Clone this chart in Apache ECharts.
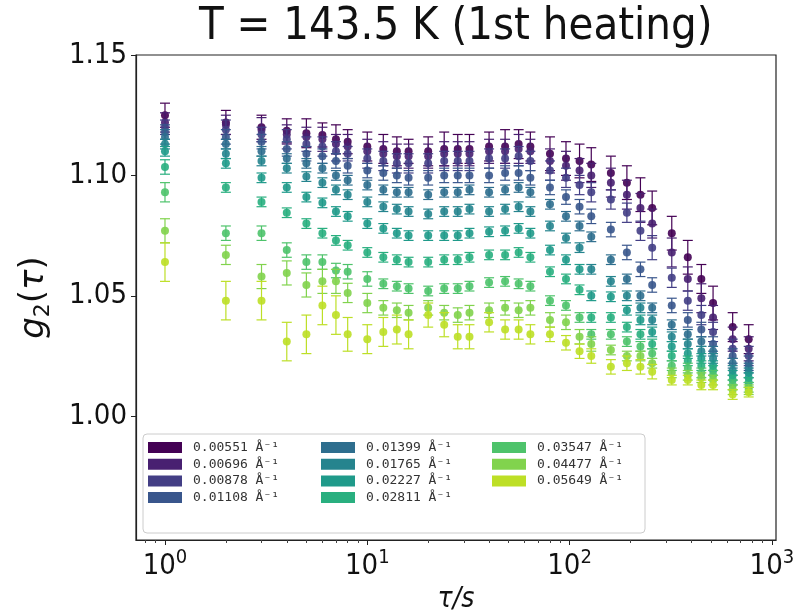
<!DOCTYPE html>
<html>
<head>
<meta charset="utf-8">
<title>g2 vs tau</title>
<script src="https://cdn.jsdelivr.net/npm/echarts@6/dist/echarts.min.js"></script>
<style>
  html, body { margin: 0; padding: 0; background: #fff; }
  #chart { width: 801px; height: 613px; }
</style>
</head>
<body>
<div id="chart"></div>
<script>
// delay times (s)
const taus = [1, 2, 3, 4, 5, 6, 7, 8, 10, 12, 14, 16, 20, 24, 28, 32, 40, 48, 56, 64,
  80, 96, 112, 128, 160, 192, 224, 256, 320, 384, 448, 512, 640, 768]

const qLabels = ['0.00551 Å⁻¹', '0.00696 Å⁻¹', '0.00878 Å⁻¹', '0.01108 Å⁻¹',
  '0.01399 Å⁻¹', '0.01765 Å⁻¹', '0.02227 Å⁻¹', '0.02811 Å⁻¹',
  '0.03547 Å⁻¹', '0.04477 Å⁻¹', '0.05649 Å⁻¹']

const qColors = ['#440154', '#482071', '#433e85', '#39568c', '#2e6e8e', '#25848e',
  '#1f9a8a', '#29af7f', '#4ec36b', '#81d34d', '#bddf26']

const xTicks = [1, 10, 100, 1000]
const yTicks = [1.00, 1.05, 1.10, 1.15]

// g2 values per q
const g2_00551 = [1.125, 1.122, 1.120, 1.1185, 1.1175, 1.1168, 1.115, 1.114, 1.112, 1.111, 1.110, 1.110,
  1.110, 1.111, 1.111, 1.111, 1.112, 1.112, 1.113, 1.112, 1.109, 1.107, 1.106, 1.1045,
  1.101, 1.097, 1.092, 1.0865, 1.076, 1.066, 1.057, 1.047, 1.037, 1.032]
const g2_00696 = [1.122, 1.121, 1.119, 1.117, 1.116, 1.115, 1.113, 1.112, 1.110, 1.109, 1.108, 1.108,
  1.108, 1.109, 1.109, 1.109, 1.110, 1.110, 1.111, 1.110, 1.106, 1.104, 1.102, 1.100,
  1.097, 1.092, 1.0865, 1.080, 1.068, 1.057, 1.049, 1.041, 1.032, 1.028]
const g2_00878 = [1.120, 1.119, 1.117, 1.115, 1.113, 1.112, 1.110, 1.109, 1.107, 1.106, 1.105, 1.105,
  1.105, 1.106, 1.106, 1.106, 1.107, 1.107, 1.108, 1.106, 1.102, 1.099, 1.096, 1.093,
  1.090, 1.0845, 1.077, 1.070, 1.0575, 1.048, 1.042, 1.035, 1.028, 1.025]
const g2_01108 = [1.118, 1.116, 1.114, 1.111, 1.109, 1.108, 1.106, 1.104, 1.102, 1.101, 1.100, 1.099,
  1.099, 1.100, 1.100, 1.100, 1.100, 1.101, 1.101, 1.099, 1.095, 1.091, 1.087, 1.083,
  1.0775, 1.068, 1.061, 1.0545, 1.046, 1.040, 1.036, 1.030, 1.025, 1.022]
const g2_01399 = [1.116, 1.113, 1.110, 1.107, 1.105, 1.103, 1.100, 1.098, 1.096, 1.094, 1.093, 1.093,
  1.092, 1.093, 1.093, 1.094, 1.093, 1.094, 1.095, 1.093, 1.088, 1.083, 1.079, 1.0745,
  1.065, 1.057, 1.050, 1.045, 1.038, 1.034, 1.031, 1.027, 1.022, 1.020]
const g2_01765 = [1.113, 1.109, 1.106, 1.103, 1.0995, 1.097, 1.094, 1.092, 1.089, 1.087, 1.086, 1.085,
  1.084, 1.085, 1.085, 1.086, 1.085, 1.086, 1.087, 1.085, 1.079, 1.074, 1.070, 1.061,
  1.056, 1.050, 1.045, 1.040, 1.033, 1.030, 1.027, 1.024, 1.019, 1.018]
const g2_02227 = [1.110, 1.105, 1.099, 1.095, 1.091, 1.0886, 1.085, 1.083, 1.080, 1.078, 1.076, 1.075,
  1.075, 1.075, 1.075, 1.076, 1.0766, 1.077, 1.078, 1.076, 1.069, 1.065, 1.061, 1.050,
  1.0496, 1.044, 1.040, 1.035, 1.029, 1.026, 1.024, 1.021, 1.017, 1.016]
const g2_02811 = [1.1035, 1.095, 1.089, 1.0845, 1.080, 1.076, 1.073, 1.071, 1.068, 1.066, 1.065, 1.064,
  1.064, 1.065, 1.065, 1.066, 1.067, 1.067, 1.068, 1.066, 1.060, 1.057, 1.0525, 1.041,
  1.041, 1.037, 1.034, 1.030, 1.025, 1.023, 1.021, 1.019, 1.015, 1.014]
const g2_03547 = [1.093, 1.076, 1.076, 1.069, 1.064, 1.064, 1.0605, 1.060, 1.057, 1.055, 1.054, 1.053,
  1.052, 1.053, 1.053, 1.054, 1.0555, 1.056, 1.055, 1.054, 1.048, 1.046, 1.041, 1.034,
  1.034, 1.031, 1.029, 1.026, 1.021, 1.020, 1.018, 1.017, 1.013, 1.012]
const g2_04477 = [1.077, 1.067, 1.058, 1.0595, 1.0545, 1.056, 1.056, 1.0512, 1.047, 1.045, 1.044, 1.043,
  1.045, 1.043, 1.042, 1.043, 1.044, 1.045, 1.044, 1.045, 1.040, 1.039, 1.033, 1.030,
  1.0275, 1.025, 1.025, 1.022, 1.018, 1.017, 1.016, 1.015, 1.011, 1.011]
const g2_05649 = [1.064, 1.048, 1.048, 1.031, 1.034, 1.046, 1.042, 1.034, 1.032, 1.035, 1.036, 1.034,
  1.042, 1.038, 1.033, 1.033, 1.039, 1.036, 1.036, 1.034, 1.034, 1.0305, 1.027, 1.025,
  1.0205, 1.022, 1.0205, 1.0185, 1.015, 1.015, 1.013, 1.013, 1.009, 1.010]

// error bars, in units of 1e-3
const err_00551 = [5, 5, 5, 5, 6, 5, 6, 5, 6, 6, 6, 5, 6, 7, 6, 6, 6, 7, 6, 6, 7, 7, 7, 7, 7, 7, 7, 7, 7, 7, 6, 7, 6, 6]
const err_00696 = [4, 4, 5, 4, 4, 5, 4, 5, 5, 5, 5, 5, 5, 5, 5, 5, 5, 5, 6, 5, 5, 6, 5, 5, 6, 6, 6, 6, 6, 5, 6, 5, 5, 5]
const err_00878 = [3, 4, 3, 4, 3, 4, 4, 3, 4, 4, 4, 4, 4, 4, 4, 4, 4, 4, 4, 4, 4, 4, 4, 4, 4, 4, 4, 5, 4, 4, 4, 4, 4, 4]
const err_01108 = [3, 3, 3, 3, 3, 3, 3, 3, 3, 3, 3, 3, 3, 3, 3, 3, 3, 3, 3, 3, 3, 3, 3, 3, 3, 3, 3, 3, 3, 3, 3, 3, 3, 3]
const err_01399 = [3, 2, 2, 2, 2, 2, 2, 2, 2, 2, 2, 2, 2, 2, 2, 2, 2, 2, 2, 2, 2, 2, 2, 2, 2, 2, 2, 2, 2, 2, 2, 2, 2, 2]
const err_01765 = [2, 2, 2, 2, 2, 2, 2, 2, 2, 2, 2, 2, 2, 2, 2, 2, 2, 2, 2, 2, 2, 2, 2, 2, 2, 2, 2, 2, 2, 2, 2, 2, 2, 2]
const err_02227 = [2, 2, 2, 2, 2, 2, 2, 2, 2, 2, 2, 2, 2, 2, 2, 2, 2, 2, 2, 2, 2, 2, 2, 2, 2, 2, 2, 2, 2, 2, 2, 2, 2, 2]
const err_02811 = [3, 2, 2, 2, 2, 2, 2, 2, 2, 2, 2, 2, 2, 2, 2, 2, 2, 2, 2, 2, 2, 2, 2, 2, 2, 2, 2, 2, 2, 2, 2, 2, 2, 2]
const err_03547 = [4, 3, 3, 3, 3, 3, 3, 3, 3, 2, 2, 2, 2, 2, 2, 2, 2, 2, 2, 2, 2, 2, 2, 2, 2, 2, 2, 2, 2, 2, 2, 2, 2, 2]
const err_04477 = [5, 4, 5, 5, 5, 5, 5, 4, 4, 3, 3, 3, 3, 3, 3, 3, 3, 3, 3, 3, 3, 3, 3, 3, 2, 2, 2, 2, 2, 2, 2, 2, 2, 2]
const err_05649 = [8, 8, 8, 8, 8, 8, 8, 7, 6, 6, 6, 6, 5, 5, 5, 5, 4, 4, 4, 4, 3, 3, 3, 3, 3, 3, 3, 3, 2, 2, 2, 2, 2, 2]

const g2List = [g2_00551, g2_00696, g2_00878, g2_01108, g2_01399, g2_01765,
  g2_02227, g2_02811, g2_03547, g2_04477, g2_05649]
const errList = [err_00551, err_00696, err_00878, err_01108, err_01399, err_01765,
  err_02227, err_02811, err_03547, err_04477, err_05649]

const FONT = "'DejaVu Sans Condensed', 'DejaVu Sans'"
const xMin = 0.719
const xMax = 1048

// matplotlib-style minor ticks on the log axis
const minorTicks = []
;[0.1, 1, 10, 100].forEach((d) => {
  for (let k = 2; k <= 9; k++) minorTicks.push(k * d)
})

// error bar + marker for one q
function makeSeries(idx) {
  const color = qColors[idx]
  return {
    name: qLabels[idx],
    type: 'custom',
    coordinateSystem: 'cartesian2d',
    xAxisIndex: 0,
    yAxisIndex: 0,
    itemStyle: { color: color },
    encode: { x: 0, y: 1 },
    data: taus.map((t, i) => [t, g2List[idx][i], errList[idx][i] / 1000]),
    renderItem: (params, api) => {
      const x = api.value(0)
      const y = api.value(1)
      const e = api.value(2)
      const p = api.coord([x, y])
      const hi = api.coord([x, y + e])
      const lo = api.coord([x, y - e])
      const cap = 5
      const lineStyle = { stroke: color, lineWidth: 1.2 }
      return {
        type: 'group',
        children: [
          { type: 'line', shape: { x1: p[0], y1: hi[1], x2: p[0], y2: lo[1] }, style: lineStyle },
          { type: 'line', shape: { x1: p[0] - cap, y1: hi[1], x2: p[0] + cap, y2: hi[1] }, style: lineStyle },
          { type: 'line', shape: { x1: p[0] - cap, y1: lo[1], x2: p[0] + cap, y2: lo[1] }, style: lineStyle },
          { type: 'circle', shape: { cx: p[0], cy: p[1], r: 4 }, style: { fill: color, opacity: 0.9 } },
        ],
      }
    },
  }
}

const chart = echarts.init(document.getElementById('chart'))

const legendLeft = [148, 321, 492]
const legends = legendLeft.map((left, c) => ({
  orient: 'vertical',
  left: left,
  top: 441,
  padding: 0,
  itemWidth: 34,
  itemHeight: 11,
  itemGap: 3.7,
  icon: 'rect',
  selectedMode: false,
  data: qLabels.slice(c * 4, c * 4 + 4),
  textStyle: { fontFamily: 'DejaVu Sans Mono', fontSize: 13, lineHeight: 12, color: '#333', padding: [0, 0, 0, 6] },
}))

const option = {
  backgroundColor: '#fff',
  animation: false,
  title: {
    text: 'T = 143.5 K (1st heating)',
    left: 199,
    top: 5,
    padding: 0,
    textStyle: { fontFamily: FONT, fontSize: 45, fontWeight: 'normal', color: '#111' },
  },
  legend: legends,
  grid: {
    left: 136,
    right: 25,
    top: 55,
    bottom: 73,
    show: true,
    borderColor: '#222',
    borderWidth: 1.2,
    backgroundColor: '#fff',
    outerBoundsMode: 'none',
  },
  graphic: [
    {
      type: 'rect',
      z: 3,
      shape: { x: 143, y: 434, width: 502, height: 99, r: 4 },
      style: { fill: 'rgba(255,255,255,0.85)', stroke: '#cccccc', lineWidth: 1 },
    },
  ],
  xAxis: [
    {
      type: 'log',
      logBase: 10,
      min: xMin,
      max: xMax,
      name: 'τ/s',
      nameLocation: 'middle',
      nameGap: 44,
      nameTextStyle: { fontFamily: FONT, fontStyle: 'italic', fontSize: 28, color: '#111' },
      splitLine: { show: false },
      axisLine: { show: true, lineStyle: { color: '#222', width: 1.2 } },
      axisTick: { show: true, customValues: xTicks, length: 5, lineStyle: { color: '#222' } },
      axisLabel: {
        customValues: xTicks,
        margin: 8,
        formatter: (v) => '{b|10}{s|' + Math.round(Math.log10(v)) + '}',
        rich: {
          b: { fontFamily: FONT, fontSize: 29, lineHeight: 36, color: '#111' },
          s: { fontFamily: FONT, fontSize: 20, lineHeight: 20, verticalAlign: 'top', color: '#111' },
        },
      },
    },
    {
      type: 'log',
      logBase: 10,
      min: xMin,
      max: xMax,
      position: 'bottom',
      splitLine: { show: false },
      axisLine: { show: false },
      axisLabel: { show: false },
      axisTick: { show: true, customValues: minorTicks, length: 3, lineStyle: { color: '#444' } },
    },
  ],
  yAxis: {
    type: 'value',
    min: 0.9486,
    max: 1.15,
    name: '{i|g}{s|2}{n|(}{i|τ}{n|)}',
    nameLocation: 'middle',
    nameRotate: 90,
    nameGap: 82,
    nameTextStyle: {
      rich: {
        i: { fontFamily: 'DejaVu Sans', fontStyle: 'italic', fontSize: 34, lineHeight: 40, color: '#111' },
        n: { fontFamily: 'DejaVu Sans', fontSize: 34, lineHeight: 40, color: '#111' },
        s: { fontFamily: 'DejaVu Sans', fontSize: 22, lineHeight: 22, verticalAlign: 'bottom', color: '#111' },
      },
    },
    splitLine: { show: false },
    axisLine: { show: true, lineStyle: { color: '#222', width: 1.2 } },
    axisTick: { show: true, customValues: yTicks, length: 5, lineStyle: { color: '#222' } },
    axisLabel: {
      customValues: yTicks,
      margin: 9,
      fontFamily: FONT,
      fontSize: 29,
      color: '#111',
      formatter: (v) => v.toFixed(2),
    },
  },
  series: qLabels.map((q, i) => makeSeries(i)),
}

chart.setOption(option)
</script>
</body>
</html>
